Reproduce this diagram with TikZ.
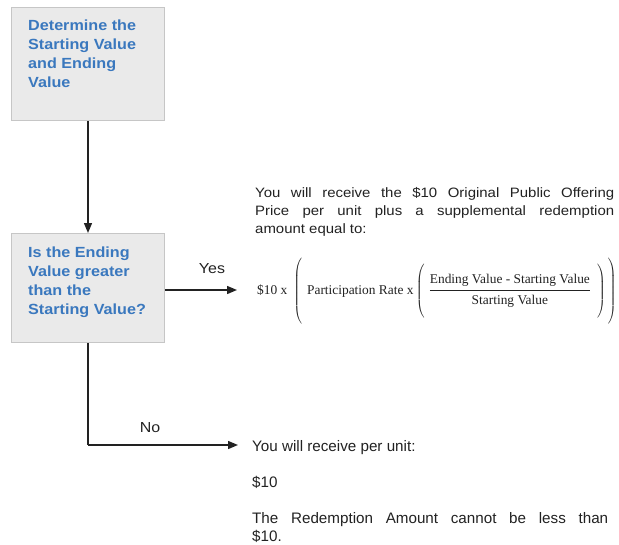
\documentclass[tikz,border=0pt]{standalone}
\usepackage{fontspec}
\setmainfont{Liberation Sans}[FakeStretch=1.1]
\newfontfamily\plainsans{Liberation Sans}
\newfontfamily\formulafont{Liberation Serif}
\usetikzlibrary{arrows.meta,positioning}

\definecolor{boxfill}{HTML}{EAEAEA}
\definecolor{boxline}{HTML}{C6C6C6}
\definecolor{boxblue}{HTML}{3A78BE}
\definecolor{bodytext}{HTML}{222222}

\tikzset{
  flowbox/.style={draw=boxline,fill=boxfill,line width=1pt,minimum width=153pt,
    minimum height=110pt,anchor=north west,inner sep=0pt},
  boxtext/.style={text=boxblue,font=\fontsize{14.7}{19}\selectfont\bfseries,
    align=left,anchor=north west,inner sep=0pt},
  flowarrow/.style={line width=1.4pt,draw=bodytext,-{Triangle[length=10pt,width=8pt]}},
  flowline/.style={line width=1.4pt,draw=bodytext},
  branchlabel/.style={text=bodytext,font=\fontsize{14.5}{17}\selectfont,anchor=base,inner sep=0pt},
  outcome/.style={text=bodytext,align=justify,anchor=north west,inner sep=0pt}
}

\begin{document}
\begin{tikzpicture}[x=1pt,y=-1pt]
    \useasboundingbox[fill=white] (0,0) rectangle (619,544);

    %Cajas de decision
    \node[flowbox,minimum height=113pt] (start) at (11,7) {};
    \node[boxtext] (starttext) at (28,20) {Determine the\\Starting Value\\and Ending\\Value};

    \node[flowbox,minimum height=109pt] (test) at (11,233) {};
    \node[boxtext] (testtext) at (28,247) {Is the Ending\\Value greater\\than the\\Starting Value?};

    %Puntos de llegada de las flechas
    \coordinate (yesend) at (237,290);
    \coordinate (nocorner) at (88,445);
    \coordinate (noend) at (238,445);

    %Flechas que unen las cajas
    \draw[flowarrow] (start.south) -- (test.north);
    \draw[flowarrow] (test.east |- yesend) -- (yesend);
    \draw[flowline] (test.south -| nocorner) -- (nocorner);
    \draw[flowarrow] (nocorner) -- (noend);

    \node[branchlabel] (yes) at (212,273) {Yes};
    \node[branchlabel] (no) at (150,432) {No};

    %Resultado si
    \node[outcome,text width=359pt,font=\fontsize{13.6}{18}\selectfont] (yestext) at (255,187)
      {You will receive the \$10 Original Public Offering\linebreak
       Price per unit plus a supplemental redemption\linebreak
       amount equal to:};
    \node[text=bodytext,anchor=west,inner sep=0pt,font=\fontsize{13.4}{15}\formulafont] (formula) at (257,291)
      {\$10 x\hspace{6pt}$\left(\vrule height 34pt depth 30pt width 0pt\hspace{5pt}
        \mbox{Participation Rate x}\left(\displaystyle\hspace{4pt}
        {\mbox{Ending Value - Starting Value}\above 1.1pt\mbox{Starting Value}}
        \vrule height 26pt depth 24pt width 0pt\hspace{6pt}\right)\hspace{2pt}\right)$};

    %Resultado no
    \node[outcome,text width=356pt,font=\fontsize{15.2}{18}\plainsans] (notext) at (252,440)
      {You will receive per unit:\\[18pt]\$10\\[18pt]The Redemption Amount cannot be less than\linebreak \$10.};

\end{tikzpicture}
\end{document}
